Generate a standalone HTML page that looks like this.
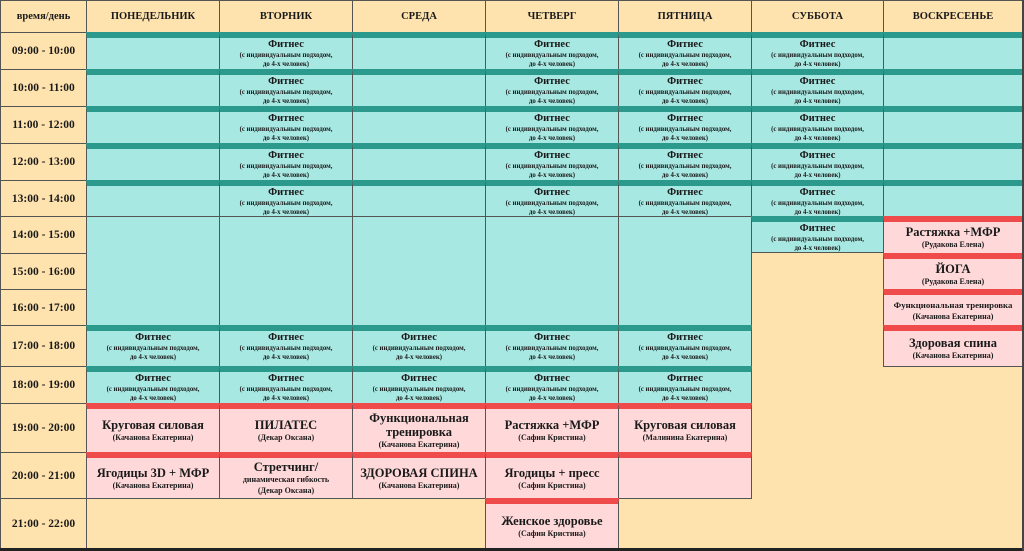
<!DOCTYPE html>
<html><head><meta charset="utf-8"><style>
body{margin:0;width:1024px;height:551px;background:#FFE3AE;position:relative;overflow:hidden;font-family:"Liberation Serif","DejaVu Serif",serif;font-weight:bold;color:#1a1a1a}
.c{position:absolute;box-sizing:border-box;border:1px solid #555;text-align:center;overflow:hidden}
.h{font-size:10.5px;line-height:31px}
.tm{font-size:11.5px;display:flex;align-items:center;justify-content:center}
.f{background:#A8E8E3;border-top:6px solid #2B9A8D;padding-top:1px}
.e{background:#A8E8E3}
.p{background:#FFD9DA;border-top:6px solid #F04B4B;display:flex;flex-direction:column;justify-content:center}
.t{font-size:10.5px;line-height:12px}
.s{font-size:6.8px;line-height:9px}
.pt{font-size:12.5px;line-height:14px}
.ps{font-size:8px;line-height:11px}
</style></head><body>
<div class="c h" style="left:0;top:0;width:87px;height:33px">время/день</div>
<div class="c h" style="left:86px;top:0;width:134px;height:33px">ПОНЕДЕЛЬНИК</div>
<div class="c h" style="left:219px;top:0;width:134px;height:33px">ВТОРНИК</div>
<div class="c h" style="left:352px;top:0;width:134px;height:33px">СРЕДА</div>
<div class="c h" style="left:485px;top:0;width:134px;height:33px">ЧЕТВЕРГ</div>
<div class="c h" style="left:618px;top:0;width:134px;height:33px">ПЯТНИЦА</div>
<div class="c h" style="left:751px;top:0;width:133px;height:33px">СУББОТА</div>
<div class="c h" style="left:883px;top:0;width:140px;height:33px">ВОСКРЕСЕНЬЕ</div>
<div class="c tm" style="left:0;top:32px;width:87px;height:38px">09:00 - 10:00</div>
<div class="c tm" style="left:0;top:69px;width:87px;height:38px">10:00 - 11:00</div>
<div class="c tm" style="left:0;top:106px;width:87px;height:38px">11:00 - 12:00</div>
<div class="c tm" style="left:0;top:143px;width:87px;height:38px">12:00 - 13:00</div>
<div class="c tm" style="left:0;top:180px;width:87px;height:37px">13:00 - 14:00</div>
<div class="c tm" style="left:0;top:216px;width:87px;height:38px">14:00 - 15:00</div>
<div class="c tm" style="left:0;top:253px;width:87px;height:37px">15:00 - 16:00</div>
<div class="c tm" style="left:0;top:289px;width:87px;height:37px">16:00 - 17:00</div>
<div class="c tm" style="left:0;top:325px;width:87px;height:42px">17:00 - 18:00</div>
<div class="c tm" style="left:0;top:366px;width:87px;height:38px">18:00 - 19:00</div>
<div class="c tm" style="left:0;top:403px;width:87px;height:50px">19:00 - 20:00</div>
<div class="c tm" style="left:0;top:452px;width:87px;height:47px">20:00 - 21:00</div>
<div class="c tm" style="left:0;top:498px;width:87px;height:51px">21:00 - 22:00</div>

<div class="c f" style="left:86px;top:32px;width:134px;height:38px"></div>
<div class="c f" style="left:219px;top:32px;width:134px;height:38px"><div class="t">Фитнес</div><div class="s">(с индивидуальным подходом,<br>до 4-х человек)</div></div>
<div class="c f" style="left:352px;top:32px;width:134px;height:38px"></div>
<div class="c f" style="left:485px;top:32px;width:134px;height:38px"><div class="t">Фитнес</div><div class="s">(с индивидуальным подходом,<br>до 4-х человек)</div></div>
<div class="c f" style="left:618px;top:32px;width:134px;height:38px"><div class="t">Фитнес</div><div class="s">(с индивидуальным подходом,<br>до 4-х человек)</div></div>
<div class="c f" style="left:751px;top:32px;width:133px;height:38px"><div class="t">Фитнес</div><div class="s">(с индивидуальным подходом,<br>до 4-х человек)</div></div>
<div class="c f" style="left:883px;top:32px;width:140px;height:38px"></div>

<div class="c f" style="left:86px;top:69px;width:134px;height:38px"></div>
<div class="c f" style="left:219px;top:69px;width:134px;height:38px"><div class="t">Фитнес</div><div class="s">(с индивидуальным подходом,<br>до 4-х человек)</div></div>
<div class="c f" style="left:352px;top:69px;width:134px;height:38px"></div>
<div class="c f" style="left:485px;top:69px;width:134px;height:38px"><div class="t">Фитнес</div><div class="s">(с индивидуальным подходом,<br>до 4-х человек)</div></div>
<div class="c f" style="left:618px;top:69px;width:134px;height:38px"><div class="t">Фитнес</div><div class="s">(с индивидуальным подходом,<br>до 4-х человек)</div></div>
<div class="c f" style="left:751px;top:69px;width:133px;height:38px"><div class="t">Фитнес</div><div class="s">(с индивидуальным подходом,<br>до 4-х человек)</div></div>
<div class="c f" style="left:883px;top:69px;width:140px;height:38px"></div>

<div class="c f" style="left:86px;top:106px;width:134px;height:38px"></div>
<div class="c f" style="left:219px;top:106px;width:134px;height:38px"><div class="t">Фитнес</div><div class="s">(с индивидуальным подходом,<br>до 4-х человек)</div></div>
<div class="c f" style="left:352px;top:106px;width:134px;height:38px"></div>
<div class="c f" style="left:485px;top:106px;width:134px;height:38px"><div class="t">Фитнес</div><div class="s">(с индивидуальным подходом,<br>до 4-х человек)</div></div>
<div class="c f" style="left:618px;top:106px;width:134px;height:38px"><div class="t">Фитнес</div><div class="s">(с индивидуальным подходом,<br>до 4-х человек)</div></div>
<div class="c f" style="left:751px;top:106px;width:133px;height:38px"><div class="t">Фитнес</div><div class="s">(с индивидуальным подходом,<br>до 4-х человек)</div></div>
<div class="c f" style="left:883px;top:106px;width:140px;height:38px"></div>

<div class="c f" style="left:86px;top:143px;width:134px;height:38px"></div>
<div class="c f" style="left:219px;top:143px;width:134px;height:38px"><div class="t">Фитнес</div><div class="s">(с индивидуальным подходом,<br>до 4-х человек)</div></div>
<div class="c f" style="left:352px;top:143px;width:134px;height:38px"></div>
<div class="c f" style="left:485px;top:143px;width:134px;height:38px"><div class="t">Фитнес</div><div class="s">(с индивидуальным подходом,<br>до 4-х человек)</div></div>
<div class="c f" style="left:618px;top:143px;width:134px;height:38px"><div class="t">Фитнес</div><div class="s">(с индивидуальным подходом,<br>до 4-х человек)</div></div>
<div class="c f" style="left:751px;top:143px;width:133px;height:38px"><div class="t">Фитнес</div><div class="s">(с индивидуальным подходом,<br>до 4-х человек)</div></div>
<div class="c f" style="left:883px;top:143px;width:140px;height:38px"></div>

<div class="c f" style="left:86px;top:180px;width:134px;height:37px"></div>
<div class="c f" style="left:219px;top:180px;width:134px;height:37px"><div class="t">Фитнес</div><div class="s">(с индивидуальным подходом,<br>до 4-х человек)</div></div>
<div class="c f" style="left:352px;top:180px;width:134px;height:37px"></div>
<div class="c f" style="left:485px;top:180px;width:134px;height:37px"><div class="t">Фитнес</div><div class="s">(с индивидуальным подходом,<br>до 4-х человек)</div></div>
<div class="c f" style="left:618px;top:180px;width:134px;height:37px"><div class="t">Фитнес</div><div class="s">(с индивидуальным подходом,<br>до 4-х человек)</div></div>
<div class="c f" style="left:751px;top:180px;width:133px;height:37px"><div class="t">Фитнес</div><div class="s">(с индивидуальным подходом,<br>до 4-х человек)</div></div>
<div class="c f" style="left:883px;top:180px;width:140px;height:37px"></div>

<div class="c e" style="left:86px;top:216px;width:134px;height:110px"></div>
<div class="c e" style="left:219px;top:216px;width:134px;height:110px"></div>
<div class="c e" style="left:352px;top:216px;width:134px;height:110px"></div>
<div class="c e" style="left:485px;top:216px;width:134px;height:110px"></div>
<div class="c e" style="left:618px;top:216px;width:134px;height:110px"></div>
<div class="c f" style="left:751px;top:216px;width:133px;height:37px"><div class="t">Фитнес</div><div class="s">(с индивидуальным подходом,<br>до 4-х человек)</div></div>

<div class="c p" style="left:883px;top:216px;width:140px;height:38px"><div class="pt">Растяжка +МФР</div><div class="ps">(Рудакова Елена)</div></div>
<div class="c p" style="left:883px;top:253px;width:140px;height:37px"><div class="pt">ЙОГА</div><div class="ps">(Рудакова Елена)</div></div>
<div class="c p" style="left:883px;top:289px;width:140px;height:37px"><div class="t" style="font-size:8.8px">Функциональная тренировка</div><div class="ps">(Качанова Екатерина)</div></div>
<div class="c p" style="left:883px;top:325px;width:140px;height:42px"><div class="pt">Здоровая спина</div><div class="ps">(Качанова Екатерина)</div></div>

<div class="c f" style="left:86px;top:325px;width:134px;height:42px"><div class="t">Фитнес</div><div class="s">(с индивидуальным подходом,<br>до 4-х человек)</div></div>
<div class="c f" style="left:219px;top:325px;width:134px;height:42px"><div class="t">Фитнес</div><div class="s">(с индивидуальным подходом,<br>до 4-х человек)</div></div>
<div class="c f" style="left:352px;top:325px;width:134px;height:42px"><div class="t">Фитнес</div><div class="s">(с индивидуальным подходом,<br>до 4-х человек)</div></div>
<div class="c f" style="left:485px;top:325px;width:134px;height:42px"><div class="t">Фитнес</div><div class="s">(с индивидуальным подходом,<br>до 4-х человек)</div></div>
<div class="c f" style="left:618px;top:325px;width:134px;height:42px"><div class="t">Фитнес</div><div class="s">(с индивидуальным подходом,<br>до 4-х человек)</div></div>

<div class="c f" style="left:86px;top:366px;width:134px;height:38px"><div class="t">Фитнес</div><div class="s">(с индивидуальным подходом,<br>до 4-х человек)</div></div>
<div class="c f" style="left:219px;top:366px;width:134px;height:38px"><div class="t">Фитнес</div><div class="s">(с индивидуальным подходом,<br>до 4-х человек)</div></div>
<div class="c f" style="left:352px;top:366px;width:134px;height:38px"><div class="t">Фитнес</div><div class="s">(с индивидуальным подходом,<br>до 4-х человек)</div></div>
<div class="c f" style="left:485px;top:366px;width:134px;height:38px"><div class="t">Фитнес</div><div class="s">(с индивидуальным подходом,<br>до 4-х человек)</div></div>
<div class="c f" style="left:618px;top:366px;width:134px;height:38px"><div class="t">Фитнес</div><div class="s">(с индивидуальным подходом,<br>до 4-х человек)</div></div>

<div class="c p" style="left:86px;top:403px;width:134px;height:50px"><div class="pt">Круговая силовая</div><div class="ps">(Качанова Екатерина)</div></div>
<div class="c p" style="left:219px;top:403px;width:134px;height:50px"><div class="pt">ПИЛАТЕС</div><div class="ps">(Декар Оксана)</div></div>
<div class="c p" style="left:352px;top:403px;width:134px;height:50px"><div class="pt">Функциональная<br>тренировка</div><div class="ps">(Качанова Екатерина)</div></div>
<div class="c p" style="left:485px;top:403px;width:134px;height:50px"><div class="pt">Растяжка +МФР</div><div class="ps">(Сафин Кристина)</div></div>
<div class="c p" style="left:618px;top:403px;width:134px;height:50px"><div class="pt">Круговая силовая</div><div class="ps">(Малинина Екатерина)</div></div>

<div class="c p" style="left:86px;top:452px;width:134px;height:47px"><div class="pt">Ягодицы 3D + МФР</div><div class="ps">(Качанова Екатерина)</div></div>
<div class="c p" style="left:219px;top:452px;width:134px;height:47px"><div class="pt">Стретчинг/</div><div class="ps">динамическая гибкость</div><div class="ps">(Декар Оксана)</div></div>
<div class="c p" style="left:352px;top:452px;width:134px;height:47px"><div class="pt">ЗДОРОВАЯ СПИНА</div><div class="ps">(Качанова Екатерина)</div></div>
<div class="c p" style="left:485px;top:452px;width:134px;height:47px"><div class="pt">Ягодицы + пресс</div><div class="ps">(Сафин Кристина)</div></div>
<div class="c p" style="left:618px;top:452px;width:134px;height:47px"></div>

<div class="c p" style="left:485px;top:498px;width:134px;height:51px"><div class="pt">Женское здоровье</div><div class="ps">(Сафин Кристина)</div></div>

<div style="position:absolute;left:0;top:548px;width:1024px;height:3px;background:#222"></div>
<div style="position:absolute;left:1022px;top:0;width:2px;height:551px;background:#444"></div>
</body></html>
